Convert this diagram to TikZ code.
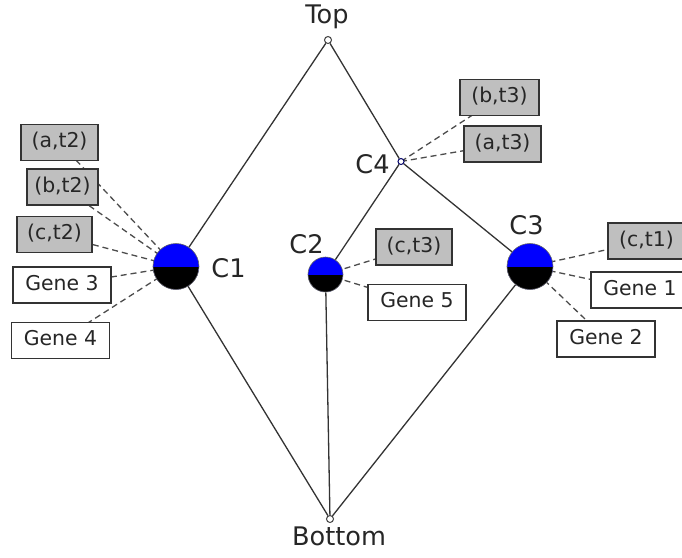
\documentclass[tikz,border=0pt]{standalone}
\usepackage{fontspec}
\setmainfont{DejaVu Sans}
\usetikzlibrary{backgrounds}

\begin{document}
\begin{tikzpicture}[x=0.5pt,y=-0.5pt,
  tag/.style={draw=black!80,line width=0.6pt,fill=gray!50,minimum width=38.5pt,minimum height=18pt,inner sep=0pt,text height=0.75em,text depth=0.22em,font=\fontsize{10.2}{12}\selectfont,text=black!85},
  gene/.style={tag,fill=white,minimum width=49pt},
  cluster/.style={circle,draw=black!60,line width=0.3pt,fill=blue,inner sep=0pt,
    path picture={\fill[black] (path picture bounding box.west) rectangle (path picture bounding box.south east);}},
  point/.style={circle,draw=black!75,line width=0.5pt,fill=white,inner sep=0pt,minimum size=3.5pt},
  lbl/.style={anchor=base,inner sep=0pt,font=\fontsize{12.8}{15}\selectfont,text=black!85},
  edge/.style={draw=black!80,line width=0.65pt},
  link/.style={draw=black!70,line width=0.65pt,dash pattern=on 3pt off 2pt}]
\useasboundingbox (0,0) rectangle (682,558);
\clip (0,0) rectangle (682,558);

% end points and clusters
\node[point] (top) at (328,40) {};
\node[point] (bottom) at (330,519) {};
\node[cluster,minimum size=23pt] (c1) at (176,266.5) {};
\node[cluster,minimum size=17.5pt] (c2) at (325.5,274.5) {};
\node[cluster,minimum size=23pt] (c3) at (530,266.5) {};
\node[point,draw=blue!40!black,minimum size=3pt] (c4) at (401,161.5) {};

\node[lbl] (toplabel) at (327,23) {Top};
\node[lbl] (bottomlabel) at (339,545) {Bottom};
\node[lbl] (c1label) at (228.5,277) {C1};
\node[lbl] (c2label) at (306.5,253) {C2};
\node[lbl] (c3label) at (526.5,234) {C3};
\node[lbl] (c4label) at (372.5,173) {C4};

% boxes
\node[tag] (at2) at (59.5,142.5) {(a,t2)};
\node[tag,minimum width=35.5pt] (bt2) at (62.5,187) {(b,t2)};
\node[tag,minimum width=37.5pt] (ct2) at (54.5,234.5) {(c,t2)};
\node[gene] (g3) at (62,285) {Gene 3};
\node[gene] (g4) at (60.5,340.5) {Gene 4};
\node[tag,minimum width=39.5pt] (bt3) at (499.5,97.5) {(b,t3)};
\node[tag] (at3) at (502.5,144) {(a,t3)};
\node[tag,minimum width=38pt] (ct3) at (414,247) {(c,t3)};
\node[gene] (g5) at (417,302.5) {Gene 5};
\node[tag] (ct1) at (646.5,241) {(c,t1)};
\node[gene] (g1) at (640,290) {Gene 1};
\node[gene] (g2) at (606,339) {Gene 2};

\begin{scope}[on background layer]
\draw[edge] (top) -- (c1);
\draw[edge] (top) -- (c4);
\draw[edge] (c4) -- (c3);
\draw[edge] (c4) -- (c2);
\draw[edge] (c1) -- (bottom);
\draw[edge] (c2) -- (bottom);
\draw[edge] (c3) -- (bottom);
\foreach \a/\b in {c1/at2,c1/bt2,c1/ct2,c1/g3,c1/g4,c2/ct3,c2/g5,c3/ct1,c3/g1,c3/g2,c4/bt3,c4/at3}
  \draw[link] (\a.center) -- (\b.center);
\end{scope}
\end{tikzpicture}
\end{document}
